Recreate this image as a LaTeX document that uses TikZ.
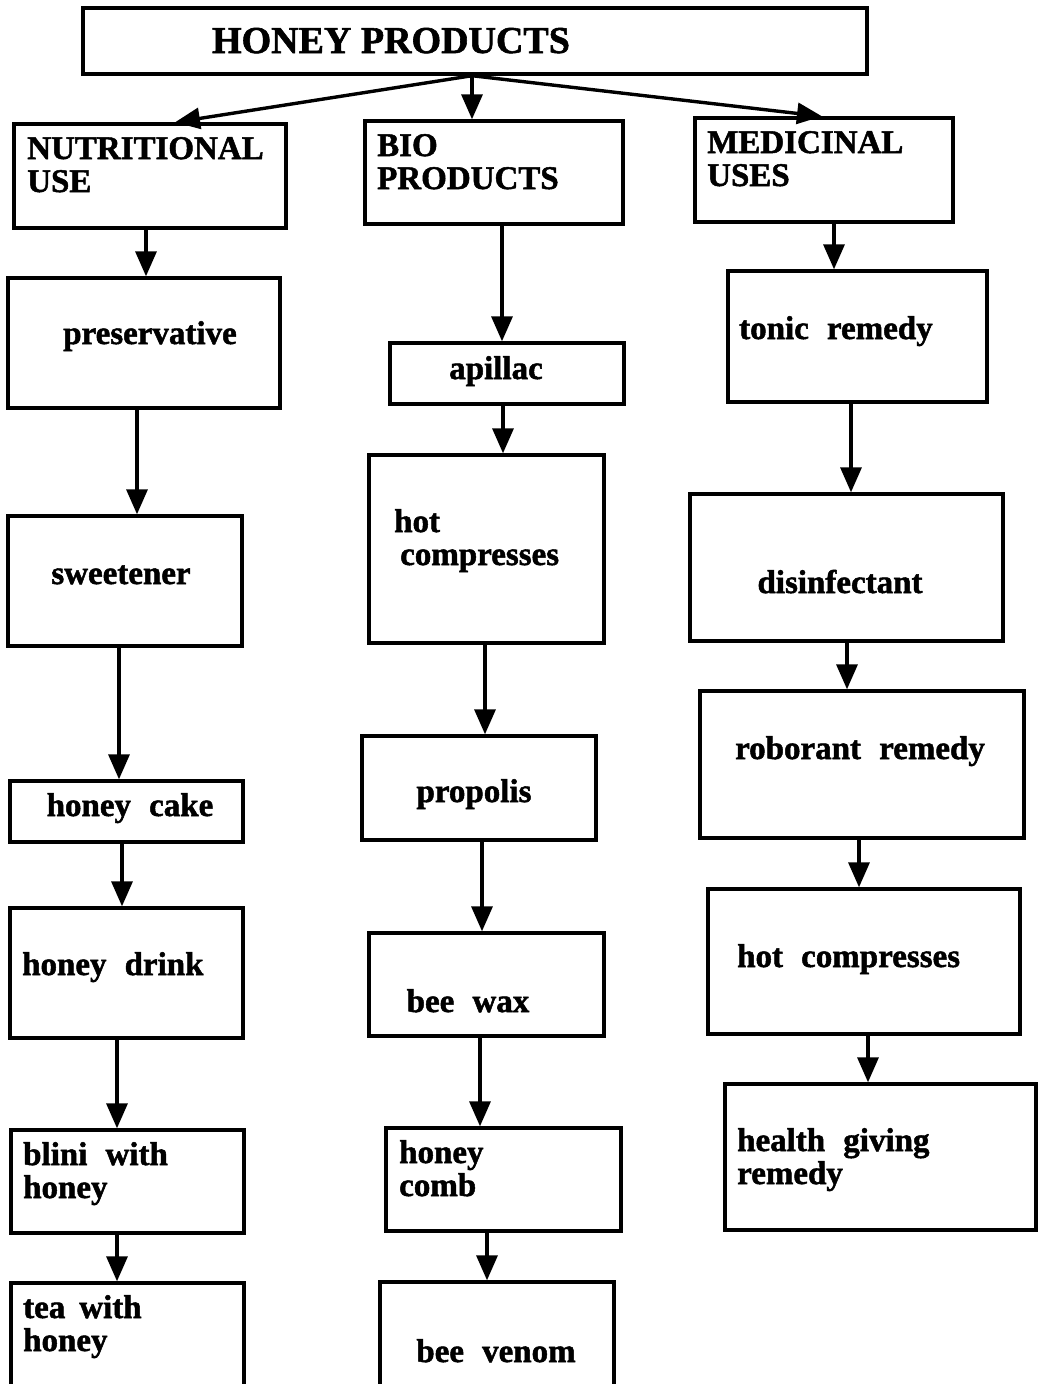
\documentclass[tikz,border=0pt]{standalone}
\usepackage{fontspec}
\setmainfont{Liberation Serif}[WordSpace=2.2,BoldFeatures={FakeBold=1.5}]
\newfontfamily\titlefont{Liberation Serif}[BoldFeatures={FakeBold=1.5}]
\usetikzlibrary{arrows.meta}

\tikzset{
  box/.style={draw, line width=3.4pt, inner sep=0pt},
  txt/.style={inner sep=0pt, anchor=base west, align=left, font=\bfseries\fontsize{33}{33}\selectfont},
  ctxt/.style={txt, anchor=base},
  arr/.style={line width=3.4pt, -{Triangle[length=25pt,width=21pt]}}
}

\begin{document}
\begin{tikzpicture}[x=1pt,y=-1pt]
\useasboundingbox (0,0) rectangle (1038,1384);
% top box
\node[box, minimum width=784pt, minimum height=66pt] (top) at (475,41) {};
\node[inner sep=0pt, anchor=base, font=\titlefont\bfseries\fontsize{38}{38}\selectfont] (top-t) at (391,53) {HONEY PRODUCTS};
% nutritional column
\node[box, minimum width=272pt, minimum height=104pt] (nutr) at (150,176) {};
\node[txt] (nutr-t) at (27,192) {NUTRITIONAL\\USE};
\node[box, minimum width=272pt, minimum height=130pt] (pres) at (144,343) {};
\node[ctxt] (pres-t) at (150,344) {preservative};
\node[box, minimum width=234pt, minimum height=130pt] (sweet) at (125,581) {};
\node[ctxt] (sweet-t) at (121,584) {sweetener};
\node[box, minimum width=233pt, minimum height=61pt] (cake) at (126.5,811.5) {};
\node[ctxt] (cake-t) at (130,816) {honey cake};
\node[box, minimum width=233pt, minimum height=130pt] (drink) at (126.5,973) {};
\node[txt] (drink-t) at (22,975) {honey drink};
\node[box, minimum width=233pt, minimum height=103pt] (blini) at (127.5,1181.5) {};
\node[txt] (blini-t) at (23,1198) {blini with\\honey};
\node[box, minimum width=233pt, minimum height=120pt] (tea) at (127.5,1343) {};
\node[txt] (tea-t) at (23,1351) {tea\hspace{14pt}with\\honey};
% bio column
\node[box, minimum width=258pt, minimum height=103pt] (bio) at (494,172.5) {};
\node[txt] (bio-t) at (377,189) {BIO\\PRODUCTS};
\node[box, minimum width=234pt, minimum height=61pt] (apil) at (507,373.5) {};
\node[ctxt] (apil-t) at (496,379) {apillac};
\node[box, minimum width=235pt, minimum height=188pt] (hotc) at (486.5,549) {};
\node[txt] (hotc-t) at (394,565) {hot\\\hspace*{6pt}compresses};
\node[box, minimum width=234pt, minimum height=104pt] (prop) at (479,788) {};
\node[ctxt] (prop-t) at (474,802) {propolis};
\node[box, minimum width=235pt, minimum height=103pt] (wax) at (486.5,984.5) {};
\node[ctxt] (wax-t) at (468,1012) {bee wax};
\node[box, minimum width=235pt, minimum height=103pt] (comb) at (503.5,1179.5) {};
\node[txt] (comb-t) at (399,1196) {honey\\comb};
\node[box, minimum width=234pt, minimum height=120pt] (venom) at (497,1342) {};
\node[ctxt] (venom-t) at (496,1362) {bee venom};
% medicinal column
\node[box, minimum width=258pt, minimum height=104pt] (med) at (824,170) {};
\node[txt] (med-t) at (707,186) {MEDICINAL\\USES};
\node[box, minimum width=259pt, minimum height=131pt] (tonic) at (857.5,336.5) {};
\node[txt] (tonic-t) at (739,339) {tonic remedy};
\node[box, minimum width=313pt, minimum height=147pt] (disin) at (846.5,567.5) {};
\node[ctxt] (disin-t) at (840,593) {disinfectant};
\node[box, minimum width=324pt, minimum height=147pt] (robo) at (862,764.5) {};
\node[ctxt] (robo-t) at (860,759) {roborant remedy};
\node[box, minimum width=312pt, minimum height=145pt] (hotm) at (864,961.5) {};
\node[txt] (hotm-t) at (737,967) {hot compresses};
\node[box, minimum width=311pt, minimum height=146pt] (health) at (880.5,1157) {};
\node[txt] (health-t) at (737,1184) {health giving\\remedy};
% connectors
\draw[arr] (top.south -| 472,0) -- (nutr.north -| 175,0);
\draw[arr] (top.south -| 472,0) -- (bio.north -| 472,0);
\draw[arr] (top.south -| 472,0) -- (med.north -| 822,0);
\draw[arr] (nutr.south -| 146,0) -- (pres.north -| 146,0);
\draw[arr] (pres.south -| 137,0) -- (sweet.north -| 137,0);
\draw[arr] (sweet.south -| 119,0) -- (cake.north -| 119,0);
\draw[arr] (cake.south -| 122,0) -- (drink.north -| 122,0);
\draw[arr] (drink.south -| 117,0) -- (blini.north -| 117,0);
\draw[arr] (blini.south -| 117,0) -- (tea.north -| 117,0);
\draw[arr] (bio.south -| 502,0) -- (apil.north -| 502,0);
\draw[arr] (apil.south -| 503,0) -- (hotc.north -| 503,0);
\draw[arr] (hotc.south -| 485,0) -- (prop.north -| 485,0);
\draw[arr] (prop.south -| 482,0) -- (wax.north -| 482,0);
\draw[arr] (wax.south -| 480,0) -- (comb.north -| 480,0);
\draw[arr] (comb.south -| 487,0) -- (venom.north -| 487,0);
\draw[arr] (med.south -| 834,0) -- (tonic.north -| 834,0);
\draw[arr] (tonic.south -| 851,0) -- (disin.north -| 851,0);
\draw[arr] (disin.south -| 847,0) -- (robo.north -| 847,0);
\draw[arr] (robo.south -| 859,0) -- (hotm.north -| 859,0);
\draw[arr] (hotm.south -| 868,0) -- (health.north -| 868,0);
\end{tikzpicture}
\end{document}
